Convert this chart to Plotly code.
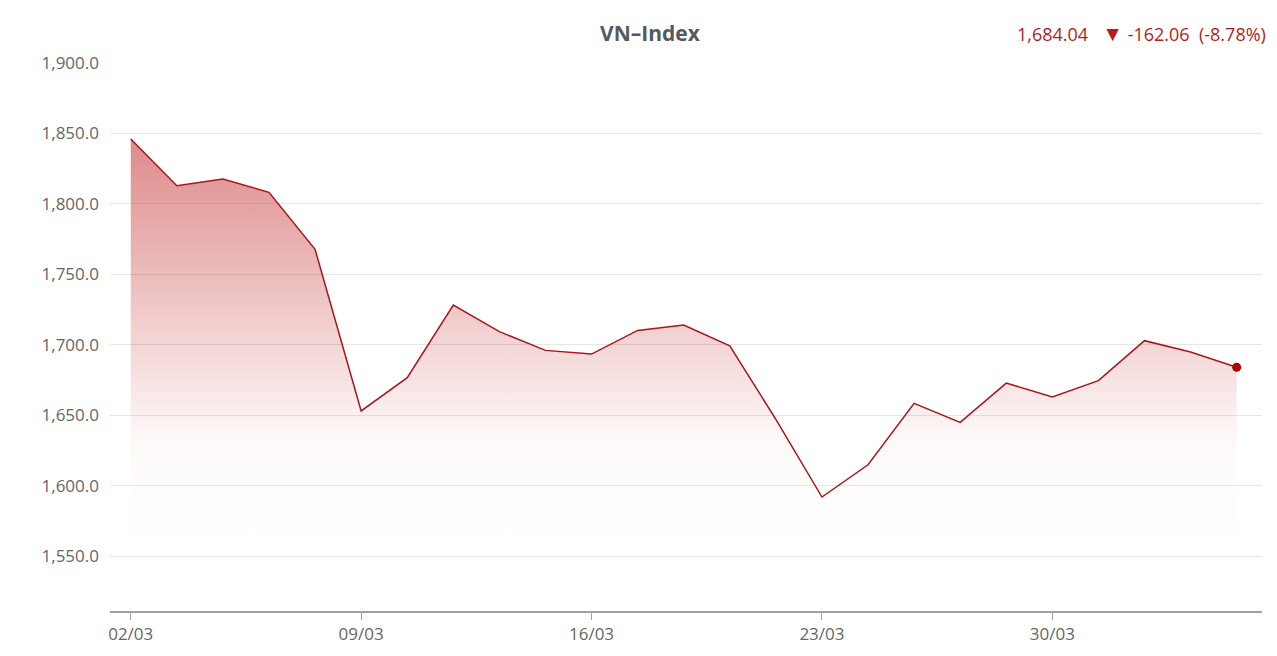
import plotly.graph_objects as go

dates = ["02/03", "03/03", "04/03", "05/03", "06/03",
         "09/03", "10/03", "11/03", "12/03", "13/03",
         "16/03", "17/03", "18/03", "19/03", "20/03",
         "23/03", "24/03", "25/03", "26/03", "27/03",
         "30/03", "31/03", "01/04", "02/04", "03/04"]
values = [1846.10, 1812.9, 1817.6, 1808.2, 1767.7,
          1653.0, 1676.6, 1728.2, 1709.3, 1696.0,
          1693.4, 1710.2, 1714.0, 1699.3, 1647.0,
          1591.9, 1614.8, 1658.4, 1644.9, 1672.8,
          1662.9, 1674.5, 1702.9, 1694.8, 1684.04]
tick_dates = ["02/03", "09/03", "16/03", "23/03", "30/03"]
y_ticks = [1550, 1600, 1650, 1700, 1750, 1800, 1850, 1900]

title_text = "VN–Index"
summary_text = ("1,684.04&nbsp;&nbsp;&nbsp;<span style='font-size:21px'>▼</span>"
                "&nbsp;-162.06&nbsp;&nbsp;(-8.78%)")

line_color = "#a8151b"

W, H = 1277, 656
L, R, T, B = 110, 15, 63, 45
PW, PH = W - L - R, H - T - B

fig = go.Figure()
fig.add_trace(go.Scatter(
    x=dates, y=values, mode="lines",
    line=dict(color=line_color, width=1.5),
    fill="tozeroy",
    fillgradient=dict(type="vertical",
                      colorscale=[[0, "rgba(200,60,60,0)"],
                                  [0.25, "rgba(200,60,60,0.03)"],
                                  [1, "rgba(200,60,60,0.6)"]],
                      start=1560, stop=1846.1),
    hoverinfo="skip", showlegend=False,
))
fig.add_trace(go.Scatter(
    x=[dates[-1]], y=[values[-1]], mode="markers",
    marker=dict(color="#b00008", size=9),
    showlegend=False, hoverinfo="skip",
))

fig.update_layout(
    width=W, height=H,
    margin=dict(l=L, r=R, t=T, b=B, autoexpand=False),
    plot_bgcolor="white", paper_bgcolor="white",
    font=dict(family="Open Sans", color="#666666", size=17),
    annotations=[
        dict(text=f"<b>{title_text}</b>", x=(650 - L) / PW, y=1 + (T - 33) / PH,
             xref="paper", yref="paper", xanchor="center", yanchor="middle",
             showarrow=False, font=dict(size=21, color="#555a60", family="Open Sans")),
        dict(text=summary_text, x=(1268 - L) / PW, y=1 + (T - 33) / PH,
             xref="paper", yref="paper", xanchor="right", yanchor="middle",
             showarrow=False, font=dict(size=18, color="#b71c1c", family="Open Sans")),
    ],
)

fig.update_xaxes(
    type="category", range=[-0.45, 24.55],
    tickmode="array", tickvals=tick_dates, ticktext=tick_dates,
    showgrid=False, showline=True, linecolor="#a0a0a0", linewidth=2,
    ticks="outside", ticklen=7, tickcolor="#a0a0a0",
    tickfont=dict(size=17, color="#666666"),
)
fig.update_yaxes(
    range=[1511, 1900], tickvals=y_ticks, tickformat=",.1f",
    showgrid=True, gridcolor="#e6e6e6", gridwidth=1,
    zeroline=False, showline=False, ticks="", ticklabelstandoff=10,
    tickfont=dict(size=17, color="#666666"),
)

fig.write_html("out.html", config={"displayModeBar": False},
               post_script="document.body.style.margin='0';document.body.style.overflow='hidden';")
